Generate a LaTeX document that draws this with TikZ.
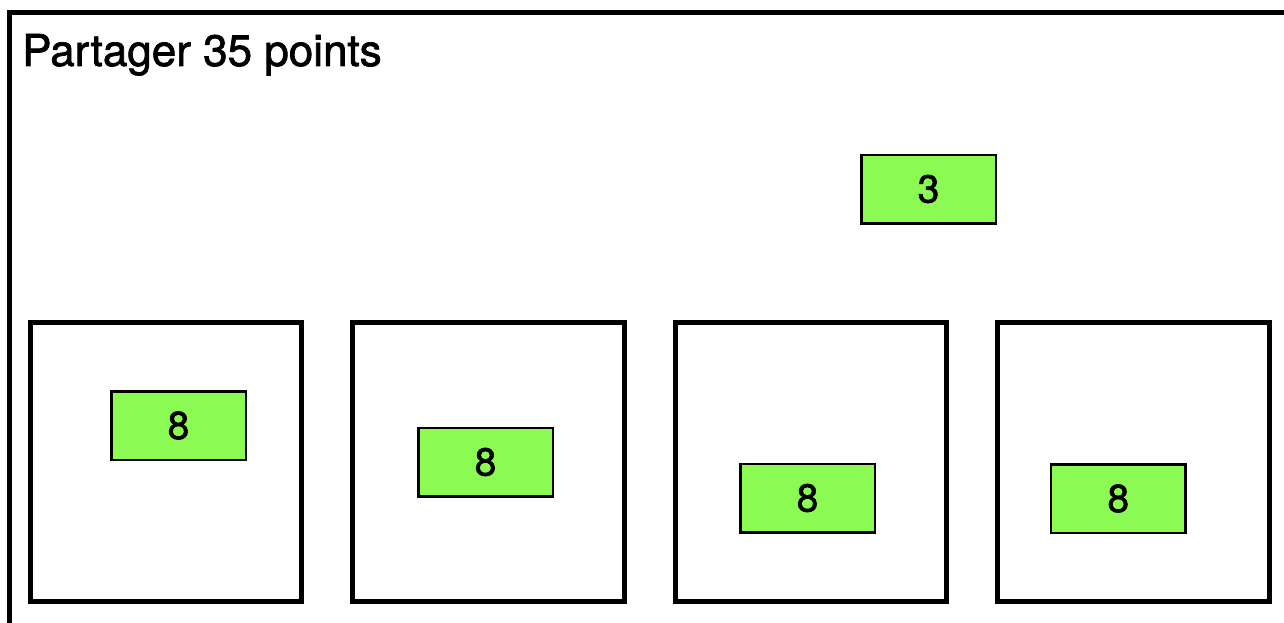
\documentclass[tikz,border=0pt]{standalone}
\usepackage{fontspec}
\setmainfont{TeX Gyre Heros}[FakeBold=1.6]
\definecolor{chipgreen}{RGB}{139,250,82}
\tikzset{
  holder/.style={draw=black, line width=5pt, fill=white, minimum width=271.5pt, minimum height=279.5pt, inner sep=0pt},
  chip/.style={draw=black, line width=2.5pt, fill=chipgreen, minimum width=134.5pt, minimum height=68.5pt, inner sep=0pt, font=\fontsize{39}{46}\selectfont},
  titletext/.style={anchor=base west, inner sep=0pt, font=\fontsize{44}{52}\selectfont}
}
\begin{document}
\begin{tikzpicture}[x=1pt,y=-1pt]
\useasboundingbox (0,0) rectangle (1284,623);
\clip (0,0) rectangle (1284,623);
\fill[white] (0,0) rectangle (1284,623);
\draw[line width=4.5pt] (9.5,660) -- (9.5,12.5) -- (1300,12.5);
\node[titletext] (title) at (22,66) {Partager 35 points};
\node[holder] (b1) at (165.75,461.75) {};
\node[holder] (b2) at (488.25,461.75) {};
\node[holder] (b3) at (810.75,461.75) {};
\node[holder] (b4) at (1133.25,461.75) {};
\node[chip] (top) at (928.5,189) {3};
\node[chip] (g1) at (178.5,425.5) {8};
\node[chip] (g2) at (485.5,462) {8};
\node[chip] (g3) at (807.5,498) {8};
\node[chip] (g4) at (1118.3,498.5) {8};
\end{tikzpicture}
\end{document}
